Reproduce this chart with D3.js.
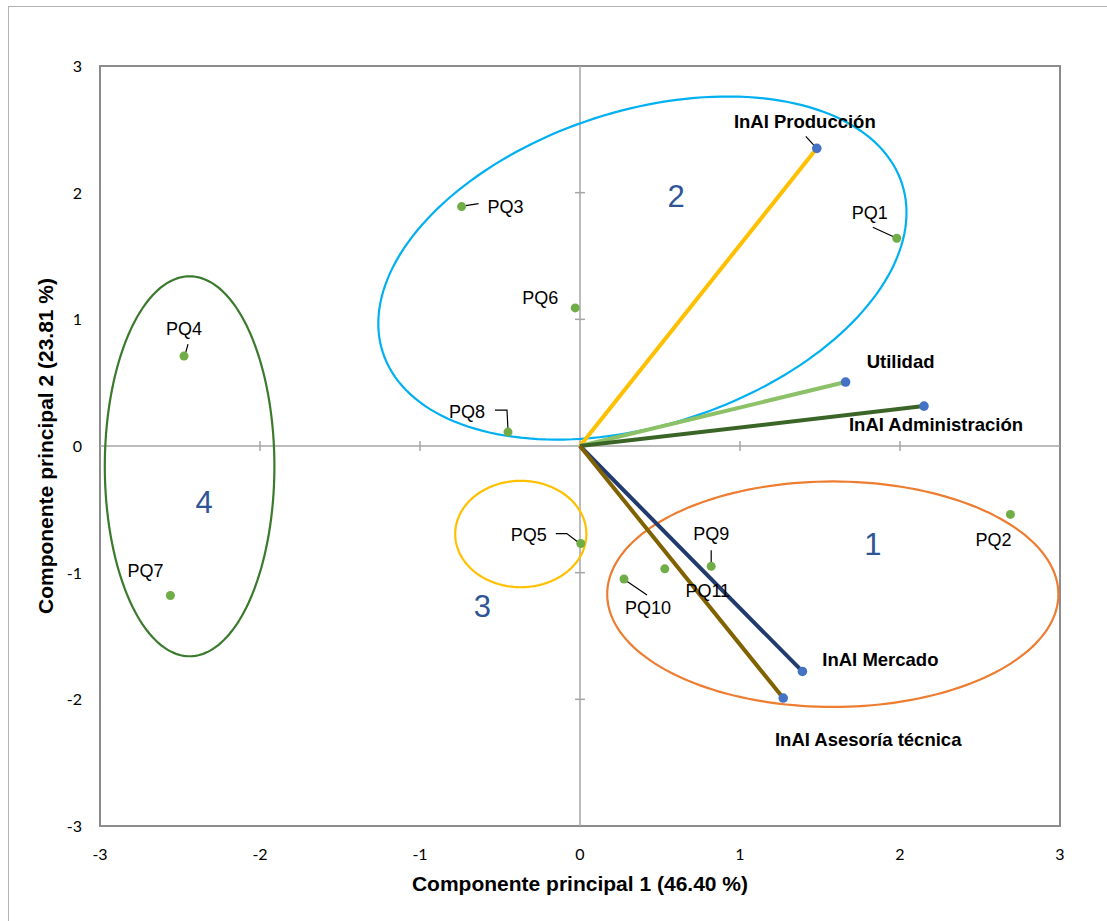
<!DOCTYPE html>
<html>
<head>
<meta charset="utf-8">
<script src="https://cdn.jsdelivr.net/npm/d3@7"></script>
<style>
  body { margin: 0; background: #fff; }
  svg { display: block; }
</style>
</head>
<body>
<div id="chart"></div>
<script>
(function() {
    var width = 1107,
        height = 921,
        plot = { left: 100, top: 66, right: 1060, bottom: 826 };

    // individuals (PQ) scores
    var pqNames = ["PQ1", "PQ2", "PQ3", "PQ4", "PQ5", "PQ6", "PQ7", "PQ8", "PQ9", "PQ10", "PQ11"];
    var pqX = [1.98, 2.69, -0.74, -2.475, 0.005, -0.03, -2.56, -0.45, 0.82, 0.275, 0.53];
    var pqY = [1.64, -0.54, 1.89, 0.71, -0.77, 1.09, -1.18, 0.11, -0.95, -1.05, -0.97];

    // variable loadings (vectors from origin)
    var varNames = ["InAI Producción", "Utilidad", "InAI Administración", "InAI Mercado", "InAI Asesoría técnica"];
    var varX = [1.48, 1.66, 2.15, 1.39, 1.27];
    var varY = [2.35, 0.505, 0.315, -1.78, -1.99];
    var varColors = ["#ffc000", "#8cc168", "#3b6527", "#213b6e", "#816200"];

    // cluster ellipses
    var clusterNames = ["1", "2", "3", "4"];
    var clusterCx = [1.58, 0.39, -0.37, -2.44];
    var clusterCy = [-1.17, 1.405, -0.695, -0.16];
    var clusterRx = [1.41, 1.706, 0.41, 0.53];
    var clusterRy = [0.89, 1.24, 0.42, 1.5];
    var clusterRot = [0, 18, 0, 0];
    var clusterColors = ["#ed7d31", "#00b0f0", "#ffc000", "#3a7a2c"];
    var clusterLabelX = [1.83, 0.6, -0.61, -2.35];
    var clusterLabelY = [-0.86, 1.89, -1.35, -0.53];

    var ticks = [-3, -2, -1, 0, 1, 2, 3];

    // label offsets in px: [dx, dy, anchor]
    var pqLabelPos = [[-27, -25, "middle"], [-17, 26, "middle"], [26, 0, "start"], [0, -27, "middle"],
        [-34, -9, "end"], [-17, -10, "end"], [-25, -24, "middle"], [-41, -20, "middle"],
        [0, -32, "middle"], [24, 29, "middle"], [43, 22, "middle"]];
    var pqLeaders = [[[-24, -11], [0, 0]], null, [[4, -1], [17, -3]], [[4, -12], [1, -1]],
        [[-25, -10], [-14, -10], [-1, 0]], null, null, [[-13, -22], [-1, -22], [0, -2]],
        [[0, -16], [0, -1]], [[1, 1], [23, 16]], null];
    var varLabelPos = [[-12, -26], [55, -20], [12, 19], [78, -11], [85, 42]];

    var x = d3.scaleLinear().domain([-3, 3]).range([plot.left, plot.right]);
    var y = d3.scaleLinear().domain([-3, 3]).range([plot.bottom, plot.top]);

    var svg = d3.select("#chart")
        .append("svg")
        .attr("width", width)
        .attr("height", height);

    // outer chart border
    svg.append("rect")
        .attr("x", 8.5).attr("y", 6.5)
        .attr("width", 1110).attr("height", 930)
        .attr("fill", "none")
        .attr("stroke", "#b3b3b3")
        .attr("stroke-width", 1);

    // plot frame
    svg.append("rect")
        .attr("x", plot.left).attr("y", plot.top)
        .attr("width", plot.right - plot.left).attr("height", plot.bottom - plot.top)
        .attr("fill", "none")
        .attr("stroke", "#8c8c8c")
        .attr("stroke-width", 2);

    // zero axes with crossing ticks
    var axisColor = "#a6a6a6";
    svg.append("line")
        .attr("x1", x(-3)).attr("x2", x(3))
        .attr("y1", y(0)).attr("y2", y(0))
        .attr("stroke", axisColor).attr("stroke-width", 1.5);
    svg.append("line")
        .attr("x1", x(0)).attr("x2", x(0))
        .attr("y1", y(-3)).attr("y2", y(3))
        .attr("stroke", axisColor).attr("stroke-width", 1.5);

    var innerTicks = ticks.filter(d => d !== 0 && Math.abs(d) !== 3);
    svg.selectAll(".xtick").data(innerTicks).enter().append("line")
        .attr("x1", d => x(d)).attr("x2", d => x(d))
        .attr("y1", y(0) - 5).attr("y2", y(0) + 5)
        .attr("stroke", axisColor).attr("stroke-width", 1.5);
    svg.selectAll(".ytick").data(innerTicks).enter().append("line")
        .attr("y1", d => y(d)).attr("y2", d => y(d))
        .attr("x1", x(0) - 5).attr("x2", x(0) + 5)
        .attr("stroke", axisColor).attr("stroke-width", 1.5);

    // tick labels
    var tickFont = "Lato, 'Open Sans', sans-serif";
    svg.selectAll(".xlab").data(ticks).enter().append("text")
        .attr("x", d => x(d))
        .attr("y", plot.bottom + 34)
        .attr("text-anchor", "middle")
        .attr("font-family", tickFont)
        .attr("font-size", 16)
        .attr("fill", "#000")
        .text(d => d);
    svg.selectAll(".ylab").data(ticks).enter().append("text")
        .attr("x", plot.left - 18)
        .attr("y", d => y(d) + 6)
        .attr("text-anchor", "end")
        .attr("font-family", tickFont)
        .attr("font-size", 16)
        .attr("fill", "#000")
        .text(d => d);

    // axis titles
    svg.append("text")
        .attr("x", x(0))
        .attr("y", 891)
        .attr("text-anchor", "middle")
        .attr("font-family", "'Liberation Sans', Arial, sans-serif")
        .attr("font-weight", "bold")
        .attr("font-size", 21)
        .text("Componente principal 1 (46.40 %)");
    svg.append("text")
        .attr("transform", "translate(53," + y(0) + ") rotate(-90)")
        .attr("text-anchor", "middle")
        .attr("font-family", "'Liberation Sans', Arial, sans-serif")
        .attr("font-weight", "bold")
        .attr("font-size", 21)
        .text("Componente principal 2 (23.81 %)");

    // cluster ellipses
    function ellipsePath(i) {
        var cx = x(clusterCx[i]), cy = y(clusterCy[i]),
            a = x(clusterCx[i] + clusterRx[i]) - cx,
            b = cy - y(clusterCy[i] + clusterRy[i]),
            th = -clusterRot[i] * Math.PI / 180,
            pts = d3.range(0, 361, 2).map(function(deg) {
                var t = deg * Math.PI / 180,
                    ex = a * Math.cos(t), ey = b * Math.sin(t);
                return [cx + ex * Math.cos(th) - ey * Math.sin(th), cy + ex * Math.sin(th) + ey * Math.cos(th)];
            });
        return d3.line()(pts) + "Z";
    }
    svg.selectAll(".cluster").data(clusterNames).enter().append("path")
        .attr("d", (d, i) => ellipsePath(i))
        .attr("fill", "none")
        .attr("stroke", (d, i) => clusterColors[i])
        .attr("stroke-width", 2.2);

    svg.selectAll(".clabel").data(clusterNames).enter().append("text")
        .attr("x", (d, i) => x(clusterLabelX[i]))
        .attr("y", (d, i) => y(clusterLabelY[i]))
        .attr("text-anchor", "middle")
        .attr("font-family", "'Liberation Sans', Arial, sans-serif")
        .attr("font-size", 31)
        .attr("fill", "#2f5597")
        .text(d => d);

    // variable vectors
    svg.selectAll(".vec").data(varNames).enter().append("line")
        .attr("x1", x(0)).attr("y1", y(0))
        .attr("x2", (d, i) => x(varX[i]))
        .attr("y2", (d, i) => y(varY[i]))
        .attr("stroke", (d, i) => varColors[i])
        .attr("stroke-width", 4);

    // leader lines for PQ labels
    pqNames.forEach(function(d, i) {
        if (!pqLeaders[i]) return;
        var px = x(pqX[i]), py = y(pqY[i]);
        svg.append("path")
            .attr("d", d3.line()(pqLeaders[i].map(p => [px + p[0], py + p[1]])))
            .attr("fill", "none")
            .attr("stroke", "#000")
            .attr("stroke-width", 1.2);
    });
    // leader for InAI Producción
    svg.append("line")
        .attr("x1", x(varX[0]) - 11).attr("y1", y(varY[0]) - 12)
        .attr("x2", x(varX[0]) - 1).attr("y2", y(varY[0]) - 1)
        .attr("stroke", "#000").attr("stroke-width", 1.2);

    // PQ points
    svg.selectAll(".pq").data(pqNames).enter().append("circle")
        .attr("cx", (d, i) => x(pqX[i]))
        .attr("cy", (d, i) => y(pqY[i]))
        .attr("r", 4.5)
        .attr("fill", "#70ad47");

    // variable endpoints
    svg.selectAll(".vpt").data(varNames).enter().append("circle")
        .attr("cx", (d, i) => x(varX[i]))
        .attr("cy", (d, i) => y(varY[i]))
        .attr("r", 4.8)
        .attr("fill", "#4472c4");

    // PQ labels
    svg.selectAll(".pqlab").data(pqNames).enter().append("text")
        .attr("x", (d, i) => x(pqX[i]) + pqLabelPos[i][0])
        .attr("y", (d, i) => y(pqY[i]) + pqLabelPos[i][1] + 6)
        .attr("text-anchor", (d, i) => pqLabelPos[i][2])
        .attr("font-family", "'Liberation Sans', Arial, sans-serif")
        .attr("font-size", 18)
        .attr("fill", "#000")
        .text(d => d);

    // variable labels
    svg.selectAll(".vlab").data(varNames).enter().append("text")
        .attr("x", (d, i) => x(varX[i]) + varLabelPos[i][0])
        .attr("y", (d, i) => y(varY[i]) + varLabelPos[i][1] + 6)
        .attr("text-anchor", "middle")
        .attr("font-family", "'Liberation Sans', Arial, sans-serif")
        .attr("font-weight", "bold")
        .attr("font-size", 18.5)
        .attr("fill", "#000")
        .text(d => d);
})();
</script>
</body>
</html>
